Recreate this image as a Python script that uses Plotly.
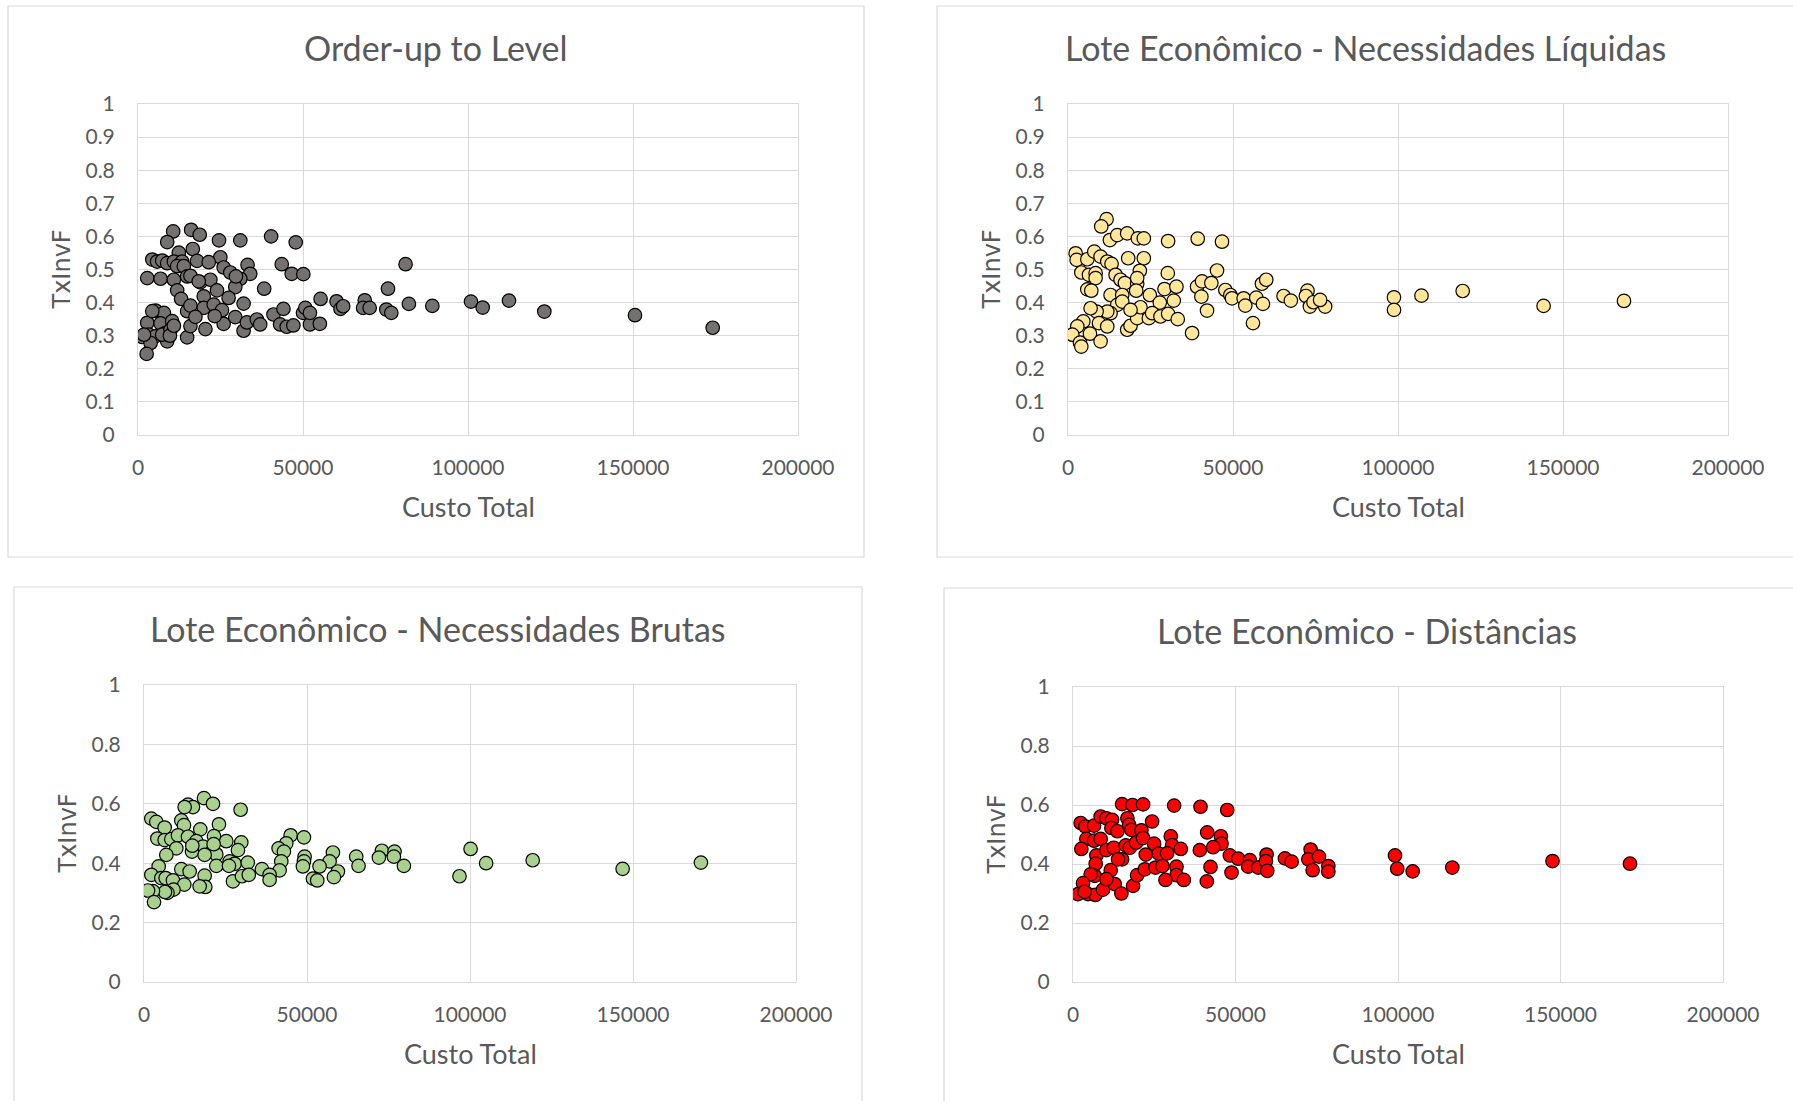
import plotly.graph_objects as go

W, H = 1793, 1101

# ---- Order-up to Level ----
oul_custo = [10660, 16100, 18700, 8850, 24550, 31000, 40340, 47800, 16600, 12370, 24950, 4330, 5800, 7340,
             8850, 10870, 13380, 11870, 13880, 17900, 21430, 25950, 27970, 33200, 34000, 43560, 46580, 50100,
             2800, 6840, 10870, 14890, 15890, 18900, 21930, 31000, 29480, 11870, 23940, 38230, 13080, 19920,
             27460, 14890, 15890, 19920, 22940, 25450, 32000, 5330, 7850, 2800, 6840, 10360, 3320, 1300, 5230,
             8350, 8850, 7340, 9860, 3820, 2620, 14890, 15890, 17400, 20430, 25950, 29480, 32000, 33000, 36010,
             37020, 41050, 43060, 44070, 45070, 47080, 50000, 50700, 52100, 55100, 52110, 55330, 60160, 61370,
             62180, 68710, 68210, 70200, 75250, 76760, 75750, 81080, 82090, 89190, 100900, 104450, 112420,
             123130, 150600, 174150, 4330, 1810, 9660, 10870, 23240, 29680, 18410]
oul_tx = [0.615, 0.62, 0.605, 0.583, 0.588, 0.588, 0.60, 0.582, 0.562, 0.551, 0.537, 0.53, 0.524, 0.527,
          0.519, 0.524, 0.524, 0.51, 0.51, 0.526, 0.522, 0.506, 0.491, 0.514, 0.487, 0.516, 0.487, 0.486,
          0.474, 0.472, 0.469, 0.479, 0.481, 0.461, 0.469, 0.472, 0.447, 0.437, 0.437, 0.442, 0.411, 0.419,
          0.414, 0.374, 0.391, 0.384, 0.394, 0.377, 0.397, 0.376, 0.369, 0.339, 0.337, 0.344, 0.303, 0.296,
          0.298, 0.308, 0.283, 0.303, 0.318, 0.278, 0.245, 0.295, 0.329, 0.357, 0.32, 0.336, 0.356, 0.315,
          0.34, 0.349, 0.334, 0.364, 0.334, 0.381, 0.327, 0.331, 0.369, 0.384, 0.334, 0.336, 0.369, 0.411,
          0.404, 0.381, 0.389, 0.407, 0.384, 0.384, 0.379, 0.369, 0.442, 0.516, 0.396, 0.39, 0.403, 0.385,
          0.406, 0.373, 0.362, 0.324, 0.374, 0.303, 0.30, 0.33, 0.359, 0.479, 0.464]

# ---- Lote Econômico - Necessidades Líquidas ----
liq_custo = [11690, 10080, 12700, 14920, 17940, 21170, 22980, 30340, 39310, 46670, 2320, 2620, 5850, 7960,
             9880, 11900, 13200, 4030, 6350, 8370, 8370, 5850, 7060, 18240, 22980, 21770, 14420, 15930, 17240,
             20960, 20960, 12900, 16430, 20660, 30240, 29240, 32860, 24800, 27820, 32050, 39110, 40620, 43440,
             45150, 40420, 42130, 47680, 49190, 49690, 53220, 53720, 57050, 59070, 58770, 60080, 65320, 67530,
             56050, 37600, 72580, 72080, 73300, 74390, 77920, 76400, 14920, 12900, 11900, 8670, 6850, 4640,
             2820, 1310, 3630, 4030, 6650, 9380, 11900, 9880, 17940, 18950, 20960, 21970, 24500, 25510, 28020,
             30340, 33260, 16430, 18950, 98780, 98790, 107120, 119600, 144120, 168480]
liq_tx = [0.652, 0.63, 0.589, 0.604, 0.609, 0.594, 0.594, 0.586, 0.593, 0.584, 0.549, 0.529, 0.531, 0.554,
          0.539, 0.524, 0.517, 0.491, 0.484, 0.489, 0.474, 0.44, 0.436, 0.534, 0.534, 0.496, 0.484, 0.469,
          0.459, 0.457, 0.474, 0.423, 0.423, 0.436, 0.489, 0.441, 0.448, 0.423, 0.40, 0.406, 0.448, 0.464,
          0.459, 0.497, 0.418, 0.376, 0.438, 0.423, 0.413, 0.413, 0.391, 0.415, 0.396, 0.457, 0.469, 0.42,
          0.406, 0.338, 0.308, 0.436, 0.42, 0.388, 0.401, 0.388, 0.408, 0.393, 0.368, 0.373, 0.373, 0.383,
          0.343, 0.328, 0.303, 0.279, 0.267, 0.306, 0.338, 0.328, 0.283, 0.318, 0.33, 0.353, 0.386, 0.353,
          0.368, 0.358, 0.366, 0.35, 0.403, 0.378, 0.416, 0.378, 0.421, 0.435, 0.39, 0.405]

# ---- Lote Econômico - Necessidades Brutas ----
bru_custo = [18400, 13490, 15020, 12470, 21160, 29640, 2250, 3780, 6340, 11450, 12260, 17270, 22990, 4090,
             6340, 8380, 10420, 13490, 16050, 18090, 21460, 25240, 29840, 9910, 6850, 14720, 20850, 22180,
             28820, 44970, 49060, 43640, 41290, 42920, 42110, 41600, 49260, 49060, 48750, 57950, 56930, 53860,
             59480, 58250, 51820, 53140, 65100, 65810, 72970, 72050, 76850, 76650, 79720, 4500, 2250, 5310,
             6640, 8890, 11450, 14000, 18600, 18800, 17070, 12360, 9050, 7200, 6440, 2760, 1230, 3070, 22180,
             26260, 27800, 27290, 30050, 31830, 32140, 36180, 38530, 38530, 21360, 14820, 18600, 26060, 96780,
             100180, 104950, 119240, 146820, 170830]
bru_tx = [0.619, 0.597, 0.589, 0.589, 0.60, 0.58, 0.55, 0.539, 0.52, 0.544, 0.528, 0.514, 0.531, 0.483,
          0.478, 0.481, 0.494, 0.489, 0.474, 0.456, 0.491, 0.474, 0.47, 0.45, 0.428, 0.439, 0.439, 0.43,
          0.444, 0.494, 0.487, 0.467, 0.45, 0.439, 0.406, 0.376, 0.422, 0.406, 0.389, 0.436, 0.406, 0.389,
          0.372, 0.353, 0.348, 0.342, 0.422, 0.391, 0.442, 0.419, 0.439, 0.422, 0.391, 0.389, 0.361, 0.35,
          0.35, 0.342, 0.38, 0.372, 0.358, 0.32, 0.322, 0.328, 0.311, 0.30, 0.303, 0.306, 0.308, 0.269,
          0.391, 0.406, 0.398, 0.339, 0.356, 0.402, 0.361, 0.38, 0.361, 0.344, 0.464, 0.459, 0.428, 0.391,
          0.356, 0.448, 0.40, 0.41, 0.381, 0.402]

# ---- Lote Econômico - Distâncias ----
dist_custo = [15100, 18280, 21570, 31120, 39230, 47450, 2360, 3820, 6470, 8520, 10270, 12020, 11810, 13660,
              16740, 17250, 17970, 21050, 24340, 4110, 6470, 8520, 2570, 7190, 10270, 12530, 16230, 17460,
              19390, 21570, 24960, 30090, 30500, 33170, 41290, 45500, 45700, 43130, 39020, 15100, 22390, 26390,
              28960, 6980, 11610, 6680, 5440, 3080, 1540, 4620, 6880, 9240, 12840, 14890, 18490, 19720, 22080,
              25370, 27520, 31840, 31840, 28450, 34100, 41180, 42310, 48780, 48270, 50840, 54430, 53920, 57000,
              59570, 59360, 59770, 65210, 67270, 73120, 72400, 75690, 73740, 78570, 78570, 13860, 10270, 3600,
              99080, 99760, 104520, 116710, 147540, 171380]
dist_tx = [0.603, 0.60, 0.602, 0.598, 0.594, 0.583, 0.539, 0.527, 0.53, 0.561, 0.555, 0.55, 0.522, 0.511,
           0.555, 0.533, 0.516, 0.514, 0.544, 0.485, 0.479, 0.485, 0.451, 0.429, 0.447, 0.455, 0.463, 0.455,
           0.472, 0.488, 0.469, 0.494, 0.464, 0.451, 0.507, 0.494, 0.469, 0.457, 0.447, 0.416, 0.432, 0.435,
           0.436, 0.401, 0.379, 0.36, 0.365, 0.335, 0.298, 0.298, 0.295, 0.313, 0.332, 0.30, 0.326, 0.362,
           0.382, 0.388, 0.393, 0.391, 0.362, 0.346, 0.346, 0.341, 0.39, 0.371, 0.429, 0.418, 0.413, 0.391,
           0.388, 0.432, 0.41, 0.377, 0.419, 0.408, 0.449, 0.416, 0.425, 0.379, 0.393, 0.374, 0.416, 0.349,
           0.306, 0.429, 0.384, 0.375, 0.388, 0.41, 0.401]

titles = ["Order-up to Level", "Lote Econômico - Necessidades Líquidas",
          "Lote Econômico - Necessidades Brutas", "Lote Econômico - Distâncias"]
fills = ["#767171", "#FFE699", "#A9D18E", "#FF0000"]
series = [(oul_custo, oul_tx), (liq_custo, liq_tx), (bru_custo, bru_tx), (dist_custo, dist_tx)]

# pixel geometry of each chart: plot area (left, right, top, bottom), outer frame, title centre
plot_px = [(138, 798, 104, 435), (1068, 1728, 104, 435), (144, 796, 685, 982), (1073, 1723, 687, 982)]
frame_px = [(8, 864, 6, 557), (937, 1800, 6, 557), (14, 862, 587, 1110), (944, 1800, 588, 1110)]
title_px = [(436, 48), (1365, 48), (438, 628), (1367, 630)]
y_dtick = [0.1, 0.1, 0.2, 0.2]

TXT = "#595959"
GRID = "#D9D9D9"


def px(xv):
    return xv / W


def py(yv):
    return 1 - yv / H


fig = go.Figure()
layout = dict(
    width=W, height=H,
    margin=dict(l=0, r=0, t=0, b=0, autoexpand=False),
    paper_bgcolor="white", plot_bgcolor="white",
    showlegend=False, template="none",
    font=dict(family="Lato", color=TXT),
    shapes=[], annotations=[],
)

for i, ((xs, ys), fill) in enumerate(zip(series, fills)):
    n = "" if i == 0 else str(i + 1)
    fig.add_trace(go.Scatter(
        x=xs, y=ys, mode="markers", xaxis="x" + n, yaxis="y" + n,
        marker=dict(size=13.5, color=fill, line=dict(color="black", width=1.2)),
        hoverinfo="x+y",
    ))
    l, r, t, b = plot_px[i]
    layout["xaxis" + n] = dict(
        domain=[px(l), px(r)], anchor="y" + n, range=[0, 200000], dtick=50000, tick0=0,
        tickformat="d", showgrid=True, gridcolor=GRID, gridwidth=1, zeroline=False,
        showline=True, linecolor=GRID, linewidth=1, mirror=True, ticks="",
        tickfont=dict(family="Lato", size=21, color=TXT), ticklabelstandoff=14,
        automargin=False, fixedrange=True,
    )
    layout["yaxis" + n] = dict(
        domain=[py(b), py(t)], anchor="x" + n, range=[0, 1], dtick=y_dtick[i], tick0=0,
        showgrid=True, gridcolor=GRID, gridwidth=1, zeroline=False,
        showline=True, linecolor=GRID, linewidth=1, mirror=True, ticks="",
        tickfont=dict(family="Lato", size=21, color=TXT), ticklabelstandoff=18,
        automargin=False, fixedrange=True,
    )
    fx0, fx1, fy0, fy1 = frame_px[i]
    layout["shapes"].append(dict(
        type="rect", xref="paper", yref="paper", x0=px(fx0), x1=px(fx1), y0=py(fy1), y1=py(fy0),
        line=dict(color=GRID, width=1.2), fillcolor="rgba(0,0,0,0)", layer="below",
    ))
    tx, ty = title_px[i]
    layout["annotations"].append(dict(
        text=titles[i], xref="paper", yref="paper", x=px(tx), y=py(ty),
        xanchor="center", yanchor="middle", showarrow=False,
        font=dict(family="Lato", size=34, color=TXT),
    ))
    layout["annotations"].append(dict(
        text="Custo Total", xref="paper", yref="paper", x=px((l + r) / 2), y=py(b + 71),
        xanchor="center", yanchor="middle", showarrow=False,
        font=dict(family="Lato", size=27, color=TXT),
    ))
    layout["annotations"].append(dict(
        text="TxInvF", xref="paper", yref="paper", x=px(l - 77), y=py((t + b) / 2),
        xanchor="center", yanchor="middle", showarrow=False, textangle=-90,
        font=dict(family="DejaVu Sans", size=24, color=TXT),
    ))

fig.update_layout(**layout)
fig.write_html("out.html")
